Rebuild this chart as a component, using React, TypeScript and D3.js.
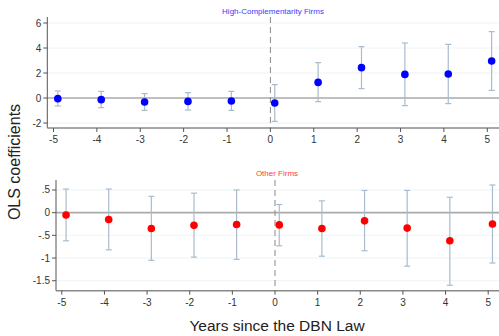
import React from "react";
import * as d3 from "d3";

const years = [-5, -4, -3, -2, -1, 0, 1, 2, 3, 4, 5];

const highCoef = [-0.05, -0.13, -0.32, -0.27, -0.24, -0.4, 1.25, 2.43, 1.89, 1.92, 2.96];
const highLo = [-0.64, -0.77, -0.99, -0.96, -0.99, -1.87, -0.29, 0.75, -0.61, -0.45, 0.61];
const highHi = [0.56, 0.53, 0.35, 0.43, 0.53, 1.07, 2.83, 4.11, 4.4, 4.29, 5.31];

const otherCoef = [-0.05, -0.15, -0.35, -0.28, -0.26, -0.27, -0.35, -0.18, -0.34, -0.62, -0.25];
const otherLo = [-0.62, -0.82, -1.05, -0.98, -1.03, -0.73, -0.96, -0.84, -1.18, -1.6, -1.11];
const otherHi = [0.52, 0.52, 0.36, 0.43, 0.5, 0.18, 0.26, 0.49, 0.49, 0.34, 0.61];

const highYTicks = [-2, 0, 2, 4, 6];
const highYLabels = ["-2", "0", "2", "4", "6"];
const otherYTicks = [-1.5, -1, -0.5, 0, 0.5];
const otherYLabels = ["-1.5", "-1", "-.5", "0", ".5"];

const font = "Liberation Sans, Arial, sans-serif";

type PanelProps = {
  title: string;
  titleColor: string;
  titleY: number;
  dotColor: string;
  coef: number[];
  lo: number[];
  hi: number[];
  xRange: [number, number];
  axisLeft: number;
  yDomain: [number, number];
  yRange: [number, number];
  yTicks: number[];
  yLabels: string[];
  titleX: number;
};

function Panel(p: PanelProps) {
  const x = d3.scaleLinear().domain([-5, 5]).range(p.xRange);
  const y = d3.scaleLinear().domain(p.yDomain).range(p.yRange);
  const top = p.yRange[1];
  const bottom = p.yRange[0];
  const right = 499;
  const ciColor = "#a9bccd";
  return (
    <g>
      <text x={p.titleX} y={p.titleY} fontSize={8} fill={p.titleColor} textAnchor="middle" fontFamily={font}>
        {p.title}
      </text>
      {p.yTicks.map((t, i) =>
        t === 0 ? null : (
          <line key={"g" + i} x1={p.axisLeft} x2={right} y1={y(t)} y2={y(t)} stroke="#eef4f4" strokeWidth={1} />
        )
      )}
      <line x1={p.axisLeft} x2={right} y1={y(0)} y2={y(0)} stroke="#aaaaaa" strokeWidth={1.6} />
      <line x1={x(0)} x2={x(0)} y1={top} y2={bottom} stroke="#888888" strokeWidth={1} strokeDasharray="6,4" />
      <line x1={p.axisLeft} x2={p.axisLeft} y1={top} y2={bottom} stroke="#555" strokeWidth={1} />
      <line x1={p.axisLeft} x2={right} y1={bottom} y2={bottom} stroke="#888" strokeWidth={1.5} />
      {p.yTicks.map((t, i) => (
        <g key={"yt" + i}>
          <line x1={p.axisLeft - 4} x2={p.axisLeft} y1={y(t)} y2={y(t)} stroke="#555" strokeWidth={1} />
          <text x={p.axisLeft - 6} y={y(t)} dy="0.35em" fontSize={10} fill="#333" textAnchor="end" fontFamily={font}>
            {p.yLabels[i]}
          </text>
        </g>
      ))}
      {years.map((t, i) => (
        <g key={"xt" + i}>
          <line x1={x(t)} x2={x(t)} y1={bottom} y2={bottom + 4} stroke="#555" strokeWidth={1} />
          <text x={x(t)} y={bottom + 15} fontSize={10} fill="#333" textAnchor="middle" fontFamily={font}>
            {String(t)}
          </text>
        </g>
      ))}
      {years.map((t, i) => {
        const cx = x(t + 0.1);
        return (
          <g key={"pt" + i}>
            <line x1={cx} x2={cx} y1={y(p.lo[i])} y2={y(p.hi[i])} stroke={ciColor} strokeWidth={1.2} />
            <line x1={cx - 3} x2={cx + 3} y1={y(p.lo[i])} y2={y(p.lo[i])} stroke={ciColor} strokeWidth={1.2} />
            <line x1={cx - 3} x2={cx + 3} y1={y(p.hi[i])} y2={y(p.hi[i])} stroke={ciColor} strokeWidth={1.2} />
            <circle cx={cx} cy={y(p.coef[i])} r={3.8} fill={p.dotColor} />
          </g>
        );
      })}
    </g>
  );
}

export default function App() {
  return (
    <svg width={499} height={336} style={{ position: "absolute", left: 0, top: 0, background: "#fff" }}>
      <rect x={0} y={0} width={499} height={336} fill="#fff" />
      <Panel
        title="High-Complementarity Firms"
        titleColor="#3b3bff"
        titleY={13.5}
        titleX={273}
        dotColor="#0000ff"
        coef={highCoef}
        lo={highLo}
        hi={highHi}
        xRange={[53.5, 487.3]}
        axisLeft={47.3}
        yDomain={[-2.4, 6.48]}
        yRange={[128, 17]}
        yTicks={highYTicks}
        yLabels={highYLabels}
      />
      <Panel
        title="Other Firms"
        titleColor="#ff3b3b"
        titleY={175.5}
        titleX={277}
        dotColor="#ff0000"
        coef={otherCoef}
        lo={otherLo}
        hi={otherHi}
        xRange={[61.8, 488.2]}
        axisLeft={56}
        yDomain={[-1.72, 0.72]}
        yRange={[290.7, 180]}
        yTicks={otherYTicks}
        yLabels={otherYLabels}
      />
      <text
        transform="translate(20,162) rotate(-90)"
        fontSize={16}
        fill="#222"
        textAnchor="middle"
        fontFamily={font}
      >
        OLS coefficients
      </text>
      <text x={277} y={331} fontSize={15.5} fill="#222" textAnchor="middle" fontFamily={font}>
        Years since the DBN Law
      </text>
    </svg>
  );
}
